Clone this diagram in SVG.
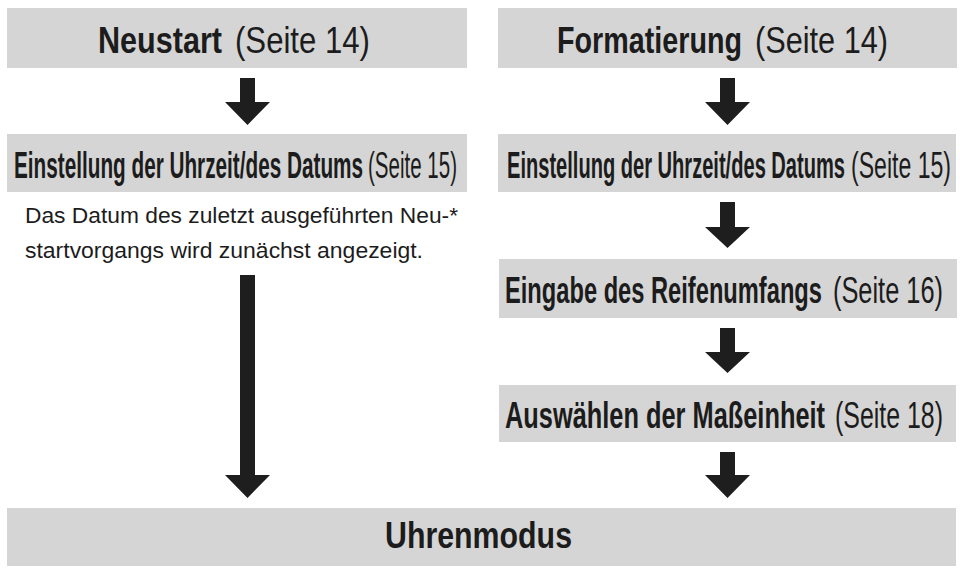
<svg xmlns="http://www.w3.org/2000/svg" width="960" height="568" viewBox="0 0 960 568">
<style>
.box{fill:#d5d5d5;}
.t{font-family:"Liberation Sans",Arial,sans-serif;fill:#1c1c1c;}
.big{font-size:37px;}
.b{font-weight:bold;}
.n{font-weight:normal;}
.note{font-size:22px;}
.arr{fill:#1e1e1e;}
</style>
<rect width="960" height="568" fill="#ffffff"/>
<g id="neustart">
<rect class="box" x="7" y="8" width="460" height="60"/>
<text class="t big b" x="98" y="53" textLength="124" lengthAdjust="spacingAndGlyphs">Neustart</text>
<text class="t big n" x="235" y="53" textLength="135" lengthAdjust="spacingAndGlyphs">(Seite 14)</text>
</g>
<g id="formatierung">
<rect class="box" x="498" y="8" width="459" height="60"/>
<text class="t big b" x="557" y="53" textLength="185" lengthAdjust="spacingAndGlyphs">Formatierung</text>
<text class="t big n" x="755" y="53" textLength="133" lengthAdjust="spacingAndGlyphs">(Seite 14)</text>
</g>
<g id="uhrzeit-links">
<rect class="box" x="7" y="134" width="460" height="58"/>
<text class="t big b" x="14" y="178" textLength="349" lengthAdjust="spacingAndGlyphs">Einstellung der Uhrzeit/des Datums</text>
<text class="t big n" x="368" y="178" textLength="89" lengthAdjust="spacingAndGlyphs">(Seite 15)</text>
</g>
<g id="hinweis">
<text class="t note" x="25" y="223" textLength="433" lengthAdjust="spacingAndGlyphs">Das Datum des zuletzt ausgeführten Neu-*</text>
<text class="t note" x="25" y="258" textLength="398" lengthAdjust="spacingAndGlyphs">startvorgangs wird zunächst angezeigt.</text>
</g>
<g id="uhrzeit-rechts">
<rect class="box" x="498" y="134" width="458" height="58"/>
<text class="t big b" x="507" y="178" textLength="338" lengthAdjust="spacingAndGlyphs">Einstellung der Uhrzeit/des Datums</text>
<text class="t big n" x="851" y="178" textLength="100" lengthAdjust="spacingAndGlyphs">(Seite 15)</text>
</g>
<g id="reifenumfang">
<rect class="box" x="499" y="259" width="458" height="59"/>
<text class="t big b" x="505" y="303" textLength="317" lengthAdjust="spacingAndGlyphs">Eingabe des Reifenumfangs</text>
<text class="t big n" x="833" y="303" textLength="110" lengthAdjust="spacingAndGlyphs">(Seite 16)</text>
</g>
<g id="masseinheit">
<rect class="box" x="499" y="385" width="457" height="57"/>
<text class="t big b" x="505" y="428" textLength="320" lengthAdjust="spacingAndGlyphs">Auswählen der Maßeinheit</text>
<text class="t big n" x="835" y="428" textLength="108" lengthAdjust="spacingAndGlyphs">(Seite 18)</text>
</g>
<g id="uhrenmodus">
<rect class="box" x="7" y="508" width="949" height="58"/>
<text class="t big b" x="385" y="548" textLength="187" lengthAdjust="spacingAndGlyphs">Uhrenmodus</text>
</g>
<g id="connectors">
<polygon class="arr" points="240,78 255,78 255,102 270,102 247.5,125 225,102 240,102"/>
<polygon class="arr" points="240,275 255,275 255,475 270,475 247.5,498 225,475 240,475"/>
<polygon class="arr" points="720,78 735,78 735,102 750,102 727.5,125 705,102 720,102"/>
<polygon class="arr" points="720,202 735,202 735,227 750,227 727.5,248 705,227 720,227"/>
<polygon class="arr" points="720,328 735,328 735,352 750,352 727.5,373 705,352 720,352"/>
<polygon class="arr" points="720,452 735,452 735,475 750,475 727.5,498 705,475 720,475"/>
</g>
</svg>
